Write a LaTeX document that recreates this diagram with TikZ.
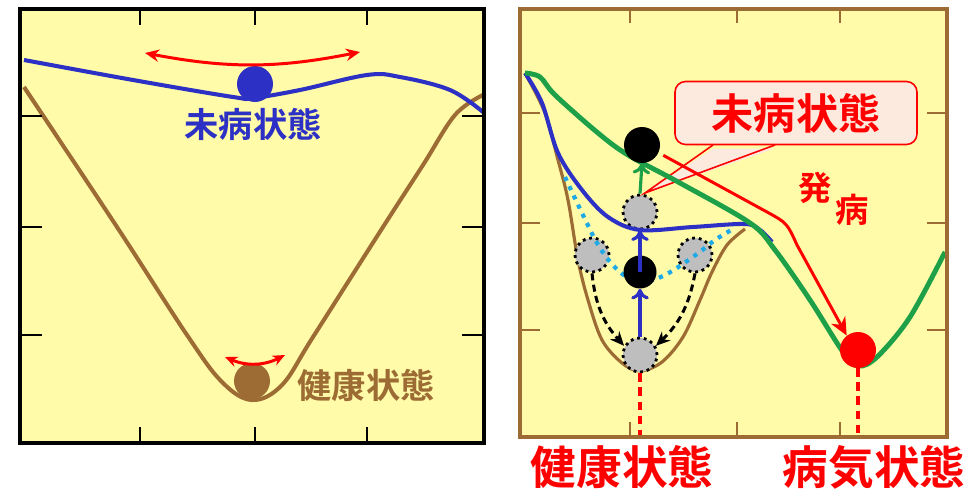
\documentclass[tikz,border=0pt]{standalone}
\usepackage{fontspec}
\newfontfamily\jpfont{Noto Sans CJK JP}[BoldFont={Noto Sans CJK JP Bold}]
\usetikzlibrary{arrows.meta}
\definecolor{bgyellow}{RGB}{255,251,168}
\definecolor{curvebrown}{RGB}{156,108,52}
\definecolor{curveblue}{RGB}{44,48,196}
\definecolor{curvegreen}{RGB}{30,160,72}
\definecolor{dotcyan}{RGB}{30,170,230}
\definecolor{ballgrey}{RGB}{190,190,190}
\definecolor{calloutpink}{RGB}{253,234,222}

\begin{document}
\begin{tikzpicture}[x=0.02cm, y=-0.02cm, every node/.style={inner sep=0pt},
  ball/.style={circle, minimum size=0.72cm, inner sep=0pt},
  greyball/.style={circle, minimum size=0.68cm, fill=ballgrey, draw=black, line width=1.6pt, dash pattern=on 1.6pt off 2.2pt},
  jp/.style={font=\jpfont\bfseries\fontsize{#1}{#1}\selectfont},
  tick/.style={line width=1.6pt}]
\useasboundingbox (0,0) rectangle (966,493);

% left panel
\fill[bgyellow] (20,9) rectangle (484,443);
\draw[curvebrown, line width=2.3pt] plot[smooth, tension=0.6] coordinates {(24,87) (117,227) (187,335) (222,382) (252,400) (282,385) (313,337) (383,227) (423,165) (455,115) (483,95)};
\draw[curveblue, line width=2.3pt] plot[smooth, tension=0.6] coordinates {(24,60) (133,80) (233,97) (253,98) (300,90) (367,75) (400,77) (450,90) (483,112)};
\node[ball, fill=curveblue] (bball) at (255,84) {};
\node[ball, fill=curvebrown] (hball) at (252,381) {};
\node[jp=19.5pt, text=curveblue] (blabel) at (253,124) {未病状態};
\node[jp=19.5pt, text=curvebrown] (hlabel) at (366,385) {健康状態};
\coordinate (swingl) at (145,53);
\coordinate (swingr) at (360,52);
\draw[red, line width=1.7pt, {Stealth[length=8pt,width=7pt]}-{Stealth[length=8pt,width=7pt]}] (swingl) to[bend right=11] (swingr);
\coordinate (smalll) at (225,357);
\coordinate (smallr) at (285,355);
\draw[red, line width=1.7pt, {Stealth[length=7pt,width=6pt]}-{Stealth[length=7pt,width=6pt]}] (smalll) to[bend right=25] (smallr);
\draw[line width=2.8pt] (20,9) rectangle (484,443);
\foreach \x in {140,255,367} {
  \draw[tick] (\x,9) -- (\x,25) (\x,443) -- (\x,427);
}
\foreach \y in {116,227,335} {
  \draw[tick] (20,\y) -- (42,\y) (484,\y) -- (462,\y);
}

% right panel
\fill[bgyellow] (520,9) rectangle (947,437);
\draw[curvebrown, line width=1.8pt] plot[smooth, tension=0.55] coordinates {(525,73) (545,113) (558,160) (568,200) (578,260) (588,300) (602,340) (622,363) (640,371) (662,362) (683,337) (700,300) (712,272) (727,245) (745,229)};
\node[greyball] (g0) at (640,355) {};
\node[greyball] (gl) at (592,255) {};
\node[greyball] (gr) at (695,255) {};
\node[greyball] (g1) at (640,212) {};
\draw[dotcyan, line width=2.4pt, dash pattern=on 2.4pt off 3.4pt] plot[smooth, tension=0.6] coordinates {(565,177) (582,213) (600,248) (620,272) (640,282) (665,275) (697,254) (715,240) (733,229)};
\draw[curveblue, line width=2.3pt] plot[smooth, tension=0.55] coordinates {(525,73) (542,103) (558,153) (582,190) (608,217) (640,230) (693,227) (745,224) (760,230) (772,242)};

% callout
\coordinate (ptrl) at (713,145);
\coordinate (ptrr) at (775,145);
\coordinate (ptrtip) at (645,193);
\node[draw=red, fill=calloutpink, rounded corners=6pt, line width=0.9pt, minimum width=4.84cm, minimum height=1.26cm, jp=24pt, text=red] (mibyo) at (796,113) {未病状態};
\fill[calloutpink] ([yshift=-2pt]ptrl) -- (ptrtip) -- ([yshift=-2pt]ptrr) -- cycle;
\draw[red, line width=0.9pt, line join=miter] (ptrl) -- (ptrtip) -- (ptrr);

\draw[curvegreen, line width=2.8pt] plot[smooth, tension=0.55] coordinates {(525,73) (540,77) (555,95) (598,133) (628,155) (680,183) (750,223) (775,250) (810,300) (843,352) (858,366) (877,357) (910,317) (945,252)};

\node[ball, fill=black, minimum size=0.66cm] (k1) at (640,272) {};
\node[ball, fill=black] (k2) at (642,145) {};
\node[ball, fill=red] (rb) at (858,350) {};

\draw[curveblue, line width=1.8pt, -{To[length=6pt,width=10pt]}] (g0.north) -- (k1.south);
\draw[curveblue, line width=1.8pt, -{To[length=6pt,width=10pt]}] (k1.center) -- (g1.south);
\draw[curvegreen, line width=1.8pt, -{To[length=6pt,width=10pt]}] (g1.north) -- (k2.south);
\draw[line width=1.7pt, dash pattern=on 4pt off 2.5pt, -{Stealth[length=8pt,width=7pt]}] (gl.south) to[bend right=18] (g0.150);
\draw[line width=1.7pt, dash pattern=on 4pt off 2.5pt, -{Stealth[length=8pt,width=7pt]}] (gr.south) to[bend left=18] (g0.30);
\draw[red, line width=1.7pt, shorten <=3pt, -{Stealth[length=10pt,width=9pt,inset=3pt]}] (k2.-25) -- (767,212) .. controls (787,223) .. (797,245) -- (rb.128);
\node[jp=19pt, text=red] (hatsu) at (815,188) {発};
\node[jp=19pt, text=red] (byo) at (852,210) {病};

\coordinate (rbot) at (0,437);
\draw[red, line width=1.8pt, dash pattern=on 5pt off 3pt] (g0.south) -- (g0.south |- rbot);
\draw[red, line width=1.8pt, dash pattern=on 5pt off 3pt] (rb.south) -- (rb.south |- rbot);

\draw[curvebrown, line width=2.8pt] (520,9) rectangle (947,437);
\foreach \x in {630,737,840} {
  \draw[tick, curvebrown] (\x,9) -- (\x,23) (\x,437) -- (\x,422);
}
\foreach \y in {113,223,330} {
  \draw[tick, curvebrown] (520,\y) -- (540,\y) (947,\y) -- (927,\y);
}

\node[jp=26pt, text=red] (healthy) at (622,467) {健康状態};
\node[jp=26pt, text=red] (sick) at (874,467) {病気状態};
\end{tikzpicture}
\end{document}
